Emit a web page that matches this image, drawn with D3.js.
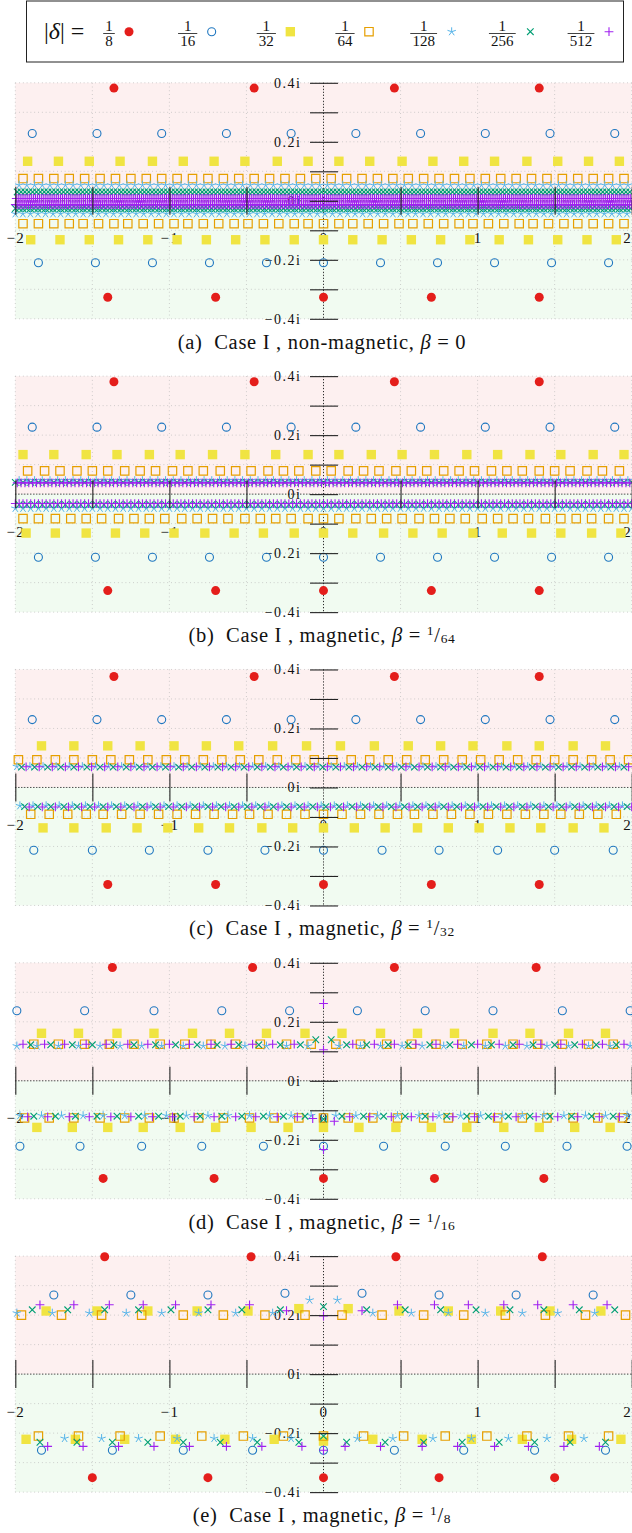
<!DOCTYPE html>
<html>
<head>
<meta charset="utf-8">
<script src="https://cdn.jsdelivr.net/npm/d3@7"></script>
<style>
  body { margin: 0; background: #fff; }
  svg { display: block; font-family: "Liberation Serif", "DejaVu Serif", serif; }
</style>
</head>
<body>
<div class="canvas"></div>
<script>
// ---- labels and ticks ----
const deltaLabels = [['1', '8'], ['1', '16'], ['1', '32'], ['1', '64'], ['1', '128'], ['1', '256'], ['1', '512']];
const captionTags = ['(a)', '(b)', '(c)', '(d)', '(e)'];
const captionKinds = ['non-magnetic', 'magnetic', 'magnetic', 'magnetic', 'magnetic'];
const betaLabels = [['0'], ['1', '64'], ['1', '32'], ['1', '16'], ['1', '8']];
const xTickValues = [-2, -1.5, -1, -0.5, 0.5, 1, 1.5, 2];
const xLabelValues = [-2, -1, 0, 1, 2];
const gridX = [-2, -1.5, -1, -0.5, 0, 0.5, 1, 1.5, 2];
const yTickValues = [-0.4, -0.3, -0.2, -0.1, 0, 0.1, 0.2, 0.3, 0.4];
const yLabelValues = [-0.4, -0.2, 0, 0.2, 0.4];

// ---- eigenvalues: rows of {im, re:[...]} ; very dense regular rows as {im, from, step} ----
// (a) non-magnetic, beta = 0
const aRed = [{ im: 0.382, re: [-1.36, -0.45, 0.46, 1.40] }, { im: -0.327, re: [-1.40, -0.70, 0, 0.70, 1.40] }];
const aBlue = [
  { im: 0.228, re: [-1.89, -1.47, -1.05, -0.63, -0.21, 0.21, 0.63, 1.05, 1.47, 1.89] },
  { im: -0.21, re: [-1.85, -1.48, -1.11, -0.74, -0.37, 0, 0.37, 0.74, 1.11, 1.48, 1.85] }];
const aYellow = [
  { im: 0.134, re: [-1.92, -1.72, -1.52, -1.32, -1.11, -0.91, -0.71, -0.51, -0.30, -0.10, 0.10, 0.30, 0.51, 0.71, 0.91, 1.11, 1.32, 1.52, 1.72, 1.92] },
  { im: -0.132, re: [-1.90, -1.71, -1.52, -1.33, -1.14, -0.95, -0.76, -0.57, -0.38, -0.19, 0, 0.19, 0.38, 0.57, 0.76, 0.95, 1.14, 1.33, 1.52, 1.71, 1.90] }];
const aOrange = [
  { im: 0.0755, re: [-1.95, -1.85, -1.75, -1.65, -1.55, -1.45, -1.35, -1.25, -1.15, -1.05, -0.95, -0.85, -0.75, -0.65, -0.55, -0.45, -0.35, -0.25, -0.15, -0.05, 0.05, 0.15, 0.25, 0.35, 0.45, 0.55, 0.65, 0.75, 0.85, 0.95, 1.05, 1.15, 1.25, 1.35, 1.45, 1.55, 1.65, 1.75, 1.85, 1.95] },
  { im: -0.0776, re: [-1.95, -1.85, -1.75, -1.65, -1.56, -1.46, -1.36, -1.27, -1.17, -1.07, -0.97, -0.88, -0.78, -0.68, -0.58, -0.49, -0.39, -0.29, -0.19, -0.10, 0, 0.10, 0.19, 0.29, 0.39, 0.49, 0.58, 0.68, 0.78, 0.88, 0.97, 1.07, 1.17, 1.27, 1.36, 1.46, 1.56, 1.65, 1.75, 1.85, 1.95] }];
const aStar = [{ im: 0.053, from: -1.975, step: 0.05 }, { im: -0.044, from: -2, step: 0.049 }];
const aCross = [{ im: 0.030, from: -1.9875, step: 0.025 }, { im: -0.026, from: -2, step: 0.0245 }];
const aPlus = [{ im: 0.008, from: -1.99375, step: 0.0125 }, { im: -0.013, from: -2, step: 0.0123 }];

// (b) magnetic, beta = 1/64
const bRed = [{ im: 0.381, re: [-1.36, -0.45, 0.46, 1.40] }, { im: -0.327, re: [-1.40, -0.70, 0, 0.70, 1.40] }];
const bBlue = [
  { im: 0.227, re: [-1.89, -1.47, -1.05, -0.63, -0.21, 0.21, 0.63, 1.05, 1.47, 1.89] },
  { im: -0.214, re: [-1.85, -1.48, -1.11, -0.74, -0.37, 0, 0.37, 0.74, 1.11, 1.48, 1.85] }];
const bYellow = [
  { im: 0.134, re: [-1.95, -1.75, -1.54, -1.34, -1.13, -0.93, -0.72, -0.51, -0.31, -0.10, 0.10, 0.31, 0.51, 0.72, 0.93, 1.13, 1.34, 1.54, 1.75, 1.95] },
  { im: -0.132, re: [-1.93, -1.74, -1.54, -1.35, -1.16, -0.97, -0.77, -0.58, -0.39, -0.19, 0, 0.19, 0.39, 0.58, 0.77, 0.97, 1.16, 1.35, 1.54, 1.74, 1.93] }];
const bOrange = [
  { im: 0.079, re: [-1.92, -1.81, -1.71, -1.60, -1.50, -1.40, -1.29, -1.19, -1.09, -0.98, -0.88, -0.78, -0.67, -0.57, -0.47, -0.36, -0.26, -0.16, -0.05, 0.05, 0.16, 0.26, 0.36, 0.47, 0.57, 0.67, 0.78, 0.88, 0.98, 1.09, 1.19, 1.29, 1.40, 1.50, 1.60, 1.71, 1.81, 1.92] },
  { im: -0.083, re: [-1.95, -1.85, -1.74, -1.64, -1.54, -1.44, -1.33, -1.23, -1.13, -1.03, -0.92, -0.82, -0.72, -0.62, -0.51, -0.41, -0.31, -0.21, -0.10, 0, 0.10, 0.21, 0.31, 0.41, 0.51, 0.62, 0.72, 0.82, 0.92, 1.03, 1.13, 1.23, 1.33, 1.44, 1.54, 1.64, 1.74, 1.85, 1.95] }];
const bStar = [{ im: 0.046, from: -1.975, step: 0.05 }, { im: -0.048, from: -2, step: 0.05 }];
const bCross = [{ im: 0.040, from: -2, step: 0.05 }, { im: -0.036, from: -1.975, step: 0.05 }];
const bPlus = [{ im: 0.038, from: -1.9875, step: 0.025 }, { im: -0.032, from: -2, step: 0.025 }];

// (c) magnetic, beta = 1/32
const cRed = [{ im: 0.376, re: [-1.36, -0.45, 0.46, 1.40] }, { im: -0.329, re: [-1.40, -0.70, 0, 0.70, 1.40] }];
const cBlue = [
  { im: 0.23, re: [-1.89, -1.47, -1.05, -0.63, -0.21, 0.21, 0.63, 1.05, 1.47, 1.89] },
  { im: -0.213, re: [-1.88, -1.50, -1.13, -0.75, -0.38, 0, 0.38, 0.75, 1.13, 1.50, 1.88] }];
const cYellow = [
  { im: 0.141, re: [-1.83, -1.62, -1.40, -1.19, -0.97, -0.76, -0.55, -0.33, -0.11, 0.11, 0.33, 0.55, 0.76, 0.97, 1.19, 1.40, 1.62, 1.83] },
  { im: -0.137, re: [-1.82, -1.62, -1.41, -1.21, -1.01, -0.81, -0.61, -0.40, -0.20, 0, 0.20, 0.40, 0.61, 0.81, 1.01, 1.21, 1.41, 1.62, 1.82] }];
const cOrange = [
  { im: 0.094, re: [-1.98, -1.86, -1.74, -1.62, -1.50, -1.38, -1.26, -1.14, -1.02, -0.90, -0.78, -0.66, -0.54, -0.42, -0.30, -0.18, -0.06, 0.06, 0.18, 0.30, 0.42, 0.54, 0.66, 0.78, 0.90, 1.02, 1.14, 1.26, 1.38, 1.50, 1.62, 1.74, 1.86, 1.98] },
  { im: -0.091, re: [-1.90, -1.78, -1.66, -1.54, -1.43, -1.31, -1.19, -1.07, -0.95, -0.83, -0.71, -0.59, -0.48, -0.36, -0.24, -0.12, 0, 0.12, 0.24, 0.36, 0.48, 0.59, 0.71, 0.83, 0.95, 1.07, 1.19, 1.31, 1.43, 1.54, 1.66, 1.78, 1.90] }];
const cStar = [{ im: 0.071, from: -1.99, step: 0.085 }, { im: -0.062, from: -1.97, step: 0.085 }];
const cCross = [{ im: 0.069, from: -1.96, step: 0.085 }, { im: -0.065, from: -1.94, step: 0.085 }];
const cPlus = [{ im: 0.070, from: -1.93, step: 0.085 }, { im: -0.066, from: -1.91, step: 0.085 }];

// (d) magnetic, beta = 1/16
const dRed = [{ im: 0.384, re: [-1.37, -0.46, 0.46, 1.38] }, { im: -0.331, re: [-1.43, -0.71, 0, 0.72, 1.43] }];
const dBlue = [
  { im: 0.2375, re: [-1.99, -1.55, -1.10, -0.66, -0.22, 0.22, 0.66, 1.10, 1.55, 1.99] },
  { im: -0.222, re: [-1.97, -1.58, -1.18, -0.79, -0.39, 0, 0.39, 0.79, 1.18, 1.58, 1.97] }];
const dYellow = [
  { im: 0.161, re: [-1.83, -1.59, -1.34, -1.10, -0.85, -0.61, -0.37, -0.12, 0.12, 0.37, 0.61, 0.85, 1.10, 1.34, 1.59, 1.83] },
  { im: -0.158, re: [-1.86, -1.63, -1.40, -1.17, -0.93, -0.70, -0.47, -0.23, 0, 0.23, 0.47, 0.70, 0.93, 1.17, 1.40, 1.63, 1.86] }];
const dOrange = [
  { im: 0.124, re: [-1.88, -1.72, -1.55, -1.39, -1.23, -1.06, -0.90, -0.73, -0.57, -0.41, -0.24, -0.08, 0.08, 0.24, 0.41, 0.57, 0.73, 0.90, 1.06, 1.23, 1.39, 1.55, 1.72, 1.88] },
  { im: -0.126, re: [-1.94, -1.78, -1.62, -1.45, -1.29, -1.13, -0.97, -0.81, -0.65, -0.48, -0.32, -0.16, 0, 0.16, 0.32, 0.48, 0.65, 0.81, 0.97, 1.13, 1.29, 1.45, 1.62, 1.78, 1.94] }];
const dStar = [
  { im: 0.118, re: [-1.99, -1.86, -1.72, -1.59, -1.45, -1.32, -1.18, -1.05, -0.91, -0.78, -0.64, -0.51, -0.37, -0.24, -0.10, 0.10, 0.24, 0.37, 0.51, 0.64, 0.78, 0.91, 1.05, 1.18, 1.32, 1.45, 1.59, 1.72, 1.86, 1.99] },
  { im: -0.118, re: [-1.97, -1.83, -1.70, -1.56, -1.43, -1.29, -1.16, -1.02, -0.89, -0.75, -0.62, -0.48, -0.35, -0.21, -0.08, 0.08, 0.21, 0.35, 0.48, 0.62, 0.75, 0.89, 1.02, 1.16, 1.29, 1.43, 1.56, 1.70, 1.83, 1.97] }];
const dCross = [
  { im: 0.122, re: [-1.90, -1.77, -1.63, -1.50, -1.36, -1.23, -1.09, -0.96, -0.82, -0.69, -0.55, -0.42, -0.28, -0.15, 0.15, 0.28, 0.42, 0.55, 0.69, 0.82, 0.96, 1.09, 1.23, 1.36, 1.50, 1.63, 1.77, 1.90] },
  { im: 0.139, re: [-0.05, 0.05] },
  { im: -0.12, re: [-1.88, -1.74, -1.61, -1.47, -1.34, -1.20, -1.07, -0.93, -0.80, -0.66, -0.53, -0.39, -0.26, -0.12, 0.12, 0.26, 0.39, 0.53, 0.66, 0.80, 0.93, 1.07, 1.20, 1.34, 1.47, 1.61, 1.74, 1.88] },
  { im: -0.13, re: [0] }];
const dPlus = [
  { im: 0.124, re: [-1.95, -1.81, -1.68, -1.54, -1.41, -1.27, -1.14, -1.00, -0.87, -0.73, -0.60, -0.46, -0.33, -0.19, 0.19, 0.33, 0.46, 0.60, 0.73, 0.87, 1.00, 1.14, 1.27, 1.41, 1.54, 1.68, 1.81, 1.95] },
  { im: 0.262, re: [0] }, { im: 0.105, re: [0] },
  { im: -0.122, re: [-1.92, -1.79, -1.65, -1.52, -1.38, -1.25, -1.11, -0.98, -0.84, -0.71, -0.57, -0.44, -0.30, -0.17, 0.17, 0.30, 0.44, 0.57, 0.71, 0.84, 0.98, 1.11, 1.25, 1.38, 1.52, 1.65, 1.79, 1.92] },
  { im: -0.128, re: [-0.07] }, { im: -0.137, re: [0.07] }, { im: -0.233, re: [0] }];

// (e) magnetic, beta = 1/8
const eRed = [{ im: 0.398, re: [-1.42, -0.47, 0.47, 1.42] }, { im: -0.351, re: [-1.50, -0.75, 0, 0.75, 1.50] }];
const eBlue = [
  { im: 0.268, re: [-1.75, -1.25, -0.75, 0.75, 1.25, 1.75] }, { im: 0.274, re: [-0.25, 0.25] },
  { im: -0.258, re: [-1.83, -1.37, -0.91, -0.46, 0, 0.46, 0.91, 1.37, 1.83] }];
const eYellow = [
  { im: 0.214, re: [-1.80, -1.47, -1.14, -0.82, -0.49, 0.49, 0.81, 1.15, 1.47, 1.80] }, { im: 0.222, re: [-0.16, 0.16] },
  { im: -0.221, re: [-1.93, -1.61, -1.29, -0.96, -0.64, -0.32, 0.32, 0.64, 0.96, 1.29, 1.61, 1.93] }, { im: -0.227, re: [0] }];
const eOrange = [
  { im: 0.2, re: [-1.96, -1.70, -1.44, -1.18, -0.91, -0.65, -0.38, -0.12, 0.12, 0.38, 0.65, 0.91, 1.18, 1.44, 1.70, 1.96] },
  { im: -0.21, re: [-1.85, -1.59, -1.32, -1.06, -0.79, -0.52, -0.26, 0, 0.26, 0.52, 0.79, 1.06, 1.32, 1.59, 1.85] }];
const eStar = [
  { im: 0.207, re: [-1.99, -1.76, -1.52, -1.28, -1.05, -0.81, -0.57, -0.33, 0.32, 0.57, 0.81, 1.05, 1.29, 1.52, 1.76] },
  { im: 0.251, re: [-0.09, 0.09] },
  { im: -0.218, re: [-1.68, -1.44, -1.20, -0.95, -0.71, -0.46, -0.21, 0.22, 0.45, 0.71, 0.96, 1.20, 1.45, 1.69] }];
const eCross = [
  { im: 0.218, re: [-1.89, -1.66, -1.42, -1.20, -0.99, -0.75, -0.53, -0.28, 0.28, 0.53, 0.76, 0.99, 1.21, 1.43, 1.66, 1.89] },
  { im: 0.229, re: [0] },
  { im: -0.231, re: [-1.84, -1.60, -1.37, -1.14, -0.91, -0.67, -0.43, -0.16, 0.15, 0.40, 0.65, 0.90, 1.14, 1.37, 1.60, 1.83] },
  { im: -0.21, re: [0] }];
const ePlus = [
  { im: 0.235, re: [-1.84, -1.62, -1.39, -1.17, -0.96, -0.73, -0.48, 0.48, 0.72, 0.94, 1.17, 1.39, 1.62, 1.84] },
  { im: 0.215, re: [-0.24, 0.25] }, { im: 0.197, re: [0] },
  { im: -0.245, re: [-1.79, -1.56, -1.33, -1.10, -0.87, -0.63, -0.40, -0.14, 0.14, 0.37, 0.64, 0.87, 1.11, 1.33, 1.56, 1.79] },
  { im: -0.258, re: [0] }];

const panels = [
  [aRed, aBlue, aYellow, aOrange, aStar, aCross, aPlus],
  [bRed, bBlue, bYellow, bOrange, bStar, bCross, bPlus],
  [cRed, cBlue, cYellow, cOrange, cStar, cCross, cPlus],
  [dRed, dBlue, dYellow, dOrange, dStar, dCross, dPlus],
  [eRed, eBlue, eYellow, eOrange, eStar, eCross, ePlus]
];

// ---- drawing ----
const W = 632, H = 1533;
const svg = d3.select('.canvas').append('svg').attr('width', W).attr('height', H);
svg.append('rect').attr('width', W).attr('height', H).attr('fill', '#fff');

const x = d3.scaleLinear().domain([-2, 2]).range([15.3, 631.7]);

// mark shapes, one per |delta|
const colors = ['#e41e1b', '#1f77c0', '#f0e442', '#e69f00', '#56b4e9', '#009e73', '#a020f0'];
const starPath = d3.range(5).map(i => {
  const a = (i * 2 * Math.PI) / 5;
  return `M0,0L${(4.4 * Math.sin(a)).toFixed(2)},${(-4.4 * Math.cos(a)).toFixed(2)}`;
}).join('');
const markPaths = [
  d3.symbol(d3.symbolCircle, Math.PI * 4.5 * 4.5)(),
  d3.symbol(d3.symbolCircle, Math.PI * 4 * 4)(),
  d3.symbol(d3.symbolSquare, 9.4 * 9.4)(),
  d3.symbol(d3.symbolSquare, 8.4 * 8.4)(),
  starPath,
  'M-3.3,-3.3L3.3,3.3M-3.3,3.3L3.3,-3.3',
  'M-4.4,0L4.4,0M0,-4.4L0,4.4'
];
const markFill = (k) => (k === 0 || k === 2 ? colors[k] : 'none');
const markStroke = (k) => (k === 0 || k === 2 ? 'none' : colors[k]);
const markWidth = [0, 1.1, 0, 1.2, 1, 1.1, 1.1];

const fmtX = d => (d < 0 ? '\u2212' : '') + Math.abs(d);
const fmtY = d => (d < 0 ? '\u2212' : '') + Math.abs(d) + 'i';

panels.forEach((series, p) => {
  const top = 82.8 + p * 293.33;
  const y = d3.scaleLinear().domain([-0.4, 0.4]).range([top + 236, top]);
  const g = svg.append('g');

  // half-plane shading
  g.append('rect').attr('x', x(-2)).attr('y', y(0.4))
    .attr('width', x(2) - x(-2)).attr('height', y(0) - y(0.4)).attr('fill', '#fdf0f0');
  g.append('rect').attr('x', x(-2)).attr('y', y(0))
    .attr('width', x(2) - x(-2)).attr('height', y(-0.4) - y(0)).attr('fill', '#f1fbf1');

  // dotted grid
  g.append('g').selectAll('line').data(gridX).join('line')
    .attr('x1', d => x(d)).attr('x2', d => x(d)).attr('y1', y(0.4)).attr('y2', y(-0.4))
    .attr('stroke', '#b8b8b8').attr('stroke-width', 0.8).attr('stroke-dasharray', '0.8,3');
  g.append('g').selectAll('line').data(yTickValues).join('line')
    .attr('x1', x(-2)).attr('x2', x(2)).attr('y1', d => y(d)).attr('y2', d => y(d))
    .attr('stroke', '#b8b8b8').attr('stroke-width', 0.8).attr('stroke-dasharray', '0.8,3');

  // dotted axis lines through the origin
  g.append('line').attr('x1', x(-2)).attr('x2', x(2)).attr('y1', y(0)).attr('y2', y(0))
    .attr('stroke', '#111').attr('stroke-width', 1).attr('stroke-dasharray', '1,2');
  g.append('line').attr('x1', x(0)).attr('x2', x(0)).attr('y1', y(0.4)).attr('y2', y(-0.4))
    .attr('stroke', '#111').attr('stroke-width', 1).attr('stroke-dasharray', '1,2');

  // tick labels (drawn under the marks)
  g.append('g').attr('transform', `translate(0,${y(0) + 32})`)
    .call(d3.axisBottom(x).tickValues(xLabelValues).tickSize(0).tickPadding(0).tickFormat(fmtX))
    .call(s => s.select('.domain').remove())
    .attr('font-family', '"Liberation Serif", serif').attr('font-size', 15)
    .selectAll('text').attr('letter-spacing', 1.4).attr('fill', '#111')
    .attr('text-anchor', d => (d === 2 ? 'end' : 'middle'));
  g.append('g').attr('transform', `translate(${x(0) - 22},0)`)
    .call(d3.axisLeft(y).tickValues(yLabelValues).tickSize(0).tickPadding(0).tickFormat(fmtY))
    .call(s => s.select('.domain').remove())
    .attr('font-family', '"Liberation Serif", serif').attr('font-size', 14)
    .selectAll('text').attr('letter-spacing', 1.5).attr('fill', '#111');

  // eigenvalue marks
  series.forEach((rows, k) => {
    const pts = rows.flatMap(r => (r.re || d3.range(r.from, 2.0001, r.step)).map(re => ({ re, im: r.im })));
    g.append('g').selectAll('path').data(pts).join('path')
      .attr('d', markPaths[k])
      .attr('transform', d => `translate(${x(d.re)},${y(d.im)})`)
      .attr('fill', markFill(k)).attr('stroke', markStroke(k)).attr('stroke-width', markWidth[k]);
  });

  // tick marks on top
  g.append('g').attr('transform', `translate(0,${y(0) - 14})`)
    .call(d3.axisBottom(x).tickValues(xTickValues).tickSize(28).tickFormat(''))
    .call(s => s.select('.domain').remove())
    .attr('color', '#222').selectAll('line').attr('stroke-width', 1.1);
  g.append('g').attr('transform', `translate(${x(0) + 14.5},0)`)
    .call(d3.axisLeft(y).tickValues(yTickValues).tickSize(28).tickFormat(''))
    .call(s => s.select('.domain').remove())
    .attr('color', '#222').selectAll('line').attr('stroke-width', 1.1);

  // caption
  const cap = g.append('text').attr('x', 322).attr('y', y(-0.4) + 30)
    .attr('text-anchor', 'middle').attr('font-size', 20.5).attr('letter-spacing', 0.7)
    .style('white-space', 'pre').attr('fill', '#111');
  cap.append('tspan').text(captionTags[p] + '  Case I , ' + captionKinds[p] + ', ');
  cap.append('tspan').attr('font-style', 'italic').text('\u03B2');
  cap.append('tspan').text(' = ');
  const b = betaLabels[p];
  if (b.length === 1) {
    cap.append('tspan').text(b[0]);
  } else {
    cap.append('tspan').attr('font-size', 13.5).attr('dy', -7).text(b[0]);
    cap.append('tspan').attr('dy', 7).text('/');
    cap.append('tspan').attr('font-size', 13.5).attr('dy', 1).text(b[1]);
  }
});

// ---- legend ----
const legend = svg.append('g');
legend.append('rect').attr('x', 26.5).attr('y', 1).attr('width', 597).attr('height', 61)
  .attr('fill', '#fff').attr('stroke', '#222').attr('stroke-width', 1);
const lt = legend.append('text').attr('x', 44).attr('y', 39).attr('font-size', 24)
  .style('white-space', 'pre').attr('fill', '#111');
lt.append('tspan').text('|');
lt.append('tspan').attr('font-style', 'italic').text('\u03B4');
lt.append('tspan').text('| =');

const lx = d3.scalePoint().domain(deltaLabels.map(d => d[1])).range([109, 581]);
deltaLabels.forEach((d, k) => {
  const cx = lx(d[1]);
  const bw = 7.6 * d[1].length + 4;
  legend.append('text').attr('x', cx).attr('y', 30.5).attr('text-anchor', 'middle')
    .attr('font-size', 15).attr('fill', '#111').text(d[0]);
  legend.append('line').attr('x1', cx - bw / 2).attr('x2', cx + bw / 2)
    .attr('y1', 33.5).attr('y2', 33.5).attr('stroke', '#111').attr('stroke-width', 0.8);
  legend.append('text').attr('x', cx).attr('y', 46).attr('text-anchor', 'middle')
    .attr('font-size', 15).attr('fill', '#111').text(d[1]);
  legend.append('path').attr('d', markPaths[k])
    .attr('transform', `translate(${cx + 16 + 4 * d[1].length},31.7)`)
    .attr('fill', markFill(k)).attr('stroke', markStroke(k)).attr('stroke-width', markWidth[k]);
});
</script>
</body>
</html>
